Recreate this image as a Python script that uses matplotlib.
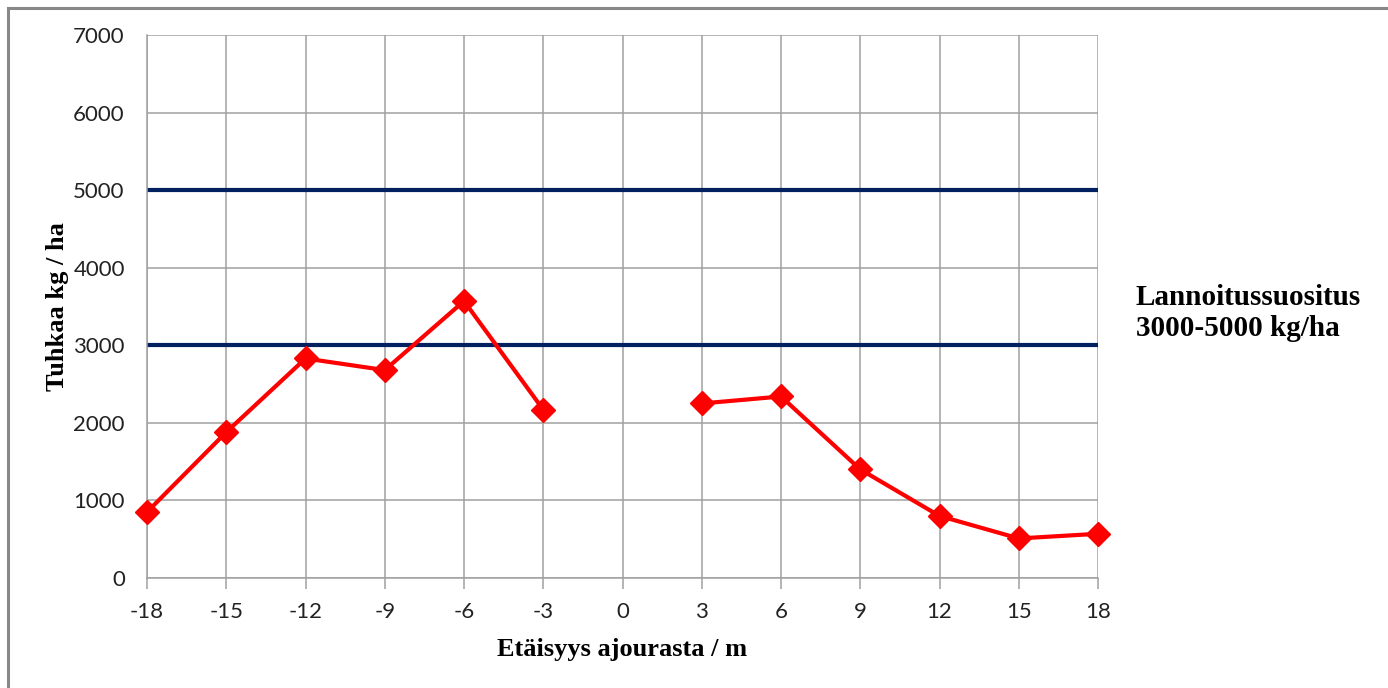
import matplotlib.pyplot as plt
from matplotlib.patches import Rectangle
import numpy as np

# distance from the track and ash amount (kg/ha); 0 has no value
distance = [-18, -15, -12, -9, -6, -3, 0, 3, 6, 9, 12, 15, 18]
ash = [850, 1880, 2830, 2680, 3570, 2170, np.nan, 2250, 2340, 1400, 800, 510, 570]

# recommended range
rec_low = 3000
rec_high = 5000

x_ticks = [-18, -15, -12, -9, -6, -3, 0, 3, 6, 9, 12, 15, 18]
y_ticks = [0, 1000, 2000, 3000, 4000, 5000, 6000, 7000]

tick_font = 'Lato'
label_font = 'Liberation Serif'
plt.rcParams['axes.unicode_minus'] = False

fig = plt.figure(figsize=(13.88, 6.88), dpi=100)
ax = fig.add_axes([147 / 1388, 110 / 688, (1098 - 147) / 1388, (578 - 35) / 688])

# grey frame round the chart (goes off the right and bottom edges)
fig.patches.append(Rectangle((8 / 1388, -0.1), 1.2, 1.1 - 8 / 688, transform=fig.transFigure,
                             fill=False, edgecolor='#888888', linewidth=2.2))

ax.set_xlim(-18, 18)
ax.set_ylim(0, 7000)
ax.set_xticks(x_ticks)
ax.set_yticks(y_ticks)

ax.grid(True, color='#a0a0a0', linewidth=1.1)
ax.set_axisbelow(True)
for side in ['top', 'right']:
    ax.spines[side].set_visible(False)
for side in ['left', 'bottom']:
    ax.spines[side].set_color('#a0a0a0')
    ax.spines[side].set_linewidth(1.1)

ax.tick_params(axis='x', direction='out', length=8, width=1.1, color='#a0a0a0', pad=9)
ax.tick_params(axis='y', length=0, pad=16)
for lab in ax.get_xticklabels() + ax.get_yticklabels():
    lab.set_fontfamily(tick_font)
    lab.set_fontsize(16)
    lab.set_color('#222222')

# recommendation lines
ax.axhline(rec_low, color='#002060', linewidth=3)
ax.axhline(rec_high, color='#002060', linewidth=3)

ax.plot(distance, ash, color='#ff0000', linewidth=3, marker='D', markersize=12,
        clip_on=False, zorder=5)

ax.set_xlabel('Etäisyys ajourasta / m', fontfamily=label_font, fontweight='bold',
              fontsize=19, labelpad=12)
ax.set_ylabel('Tuhkaa kg / ha', fontfamily=label_font, fontweight='bold',
              fontsize=19, labelpad=3)

fig.text(1136 / 1388, 1 - 313 / 688, 'Lannoitussuositus\n3000-5000 kg/ha',
         fontfamily=label_font, fontweight='bold', fontsize=21, va='center',
         linespacing=1.2)

fig.savefig('out.png', dpi=100)
